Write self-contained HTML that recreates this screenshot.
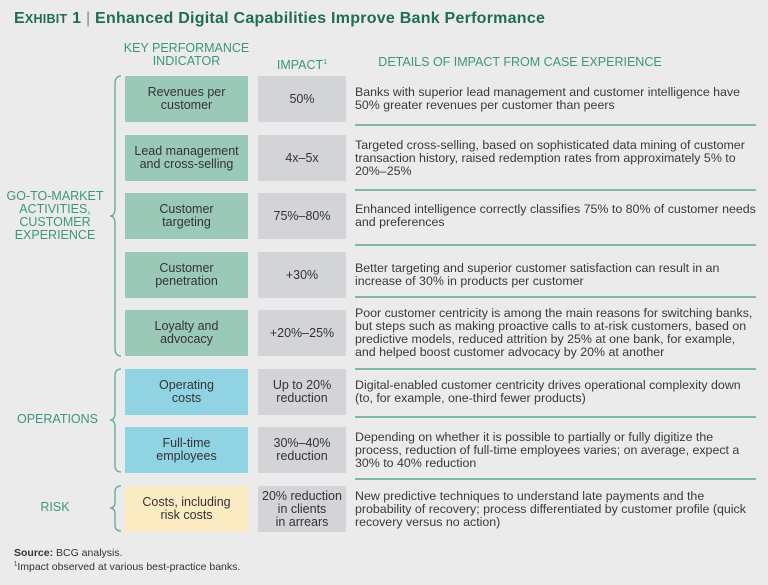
<!DOCTYPE html>
<html><head><meta charset="utf-8"><style>
body{margin:0;background:#ebebeb;}
#c{position:relative;width:768px;height:585px;background:#ebebeb;font-family:"Liberation Sans",sans-serif;overflow:hidden;color:#3a3a3a}
.t{position:absolute;white-space:nowrap}
.box{position:absolute;height:46px;display:flex;align-items:center;justify-content:center;text-align:center;font-size:12.5px;line-height:13px;color:#333}
.k{left:125px;width:123px;background:#9bc9b8}
.k.b{background:#90d4e4}
.k.y{background:#fbebc3}
.i{left:258px;width:88px;background:#d2d4d7}
.d{position:absolute;left:355px;width:410px;height:46px;display:flex;align-items:center;font-size:12.4px;line-height:13px;color:#3a3a3a}
.ln{position:absolute;left:355px;width:401px;height:2px;background:#7fb9a6}
.h{color:#3c977a;font-size:12.5px;line-height:13px;text-align:center}
.g{color:#3c977a;font-size:12.5px;line-height:13px;text-align:center}
</style></head><body>
<div id="c">
<div class="t" style="left:14px;top:10px;font-size:16px;font-weight:bold;color:#1e6e4f;letter-spacing:0.25px">E<span style="font-size:12.5px">XHIBIT</span> 1 <span style="font-weight:normal;color:#888">|</span> Enhanced Digital Capabilities Improve Bank Performance</div>

<div class="t h" style="left:120px;top:42px;width:133px">KEY PERFORMANCE<br>INDICATOR</div>
<div class="t h" style="left:258px;top:56px;width:88px">IMPACT<sup style="font-size:7px">1</sup></div>
<div class="t h" style="left:355px;top:56px;width:330px">DETAILS OF IMPACT FROM CASE EXPERIENCE</div>

<div class="t g" style="left:5px;top:190px;width:100px">GO-TO-MARKET<br>ACTIVITIES,<br>CUSTOMER<br>EXPERIENCE</div>
<div class="t g" style="left:5px;top:413px;width:105px">OPERATIONS</div>
<div class="t g" style="left:5px;top:501px;width:100px">RISK</div>

<svg width="768" height="585" style="position:absolute;left:0;top:0" fill="none" stroke="#5fa892" stroke-width="1.3">
<path d="M121 76 Q115 76 115 84 L115 208 Q115 216 110 216 Q115 216 115 224 L115 348 Q115 356 121 356"/>
<path d="M121 369 Q115 369 115 376 L115 413 Q115 420 110 420 Q115 420 115 427 L115 465 Q115 472 121 472"/>
<path d="M121 486 Q115 486 115 492 L115 502 Q115 508 110 508 Q115 508 115 514 L115 525 Q115 531 121 531"/>
</svg>

<div class="box k" style="top:76px">Revenues per<br>customer</div>
<div class="box i" style="top:76px">50%</div>
<div class="d" style="top:76px"><div>Banks with superior lead management and customer intelligence have<br>50% greater revenues per customer than peers</div></div>
<div class="ln" style="top:124px"></div>

<div class="box k" style="top:135px">Lead management<br>and cross-selling</div>
<div class="box i" style="top:135px">4x–5x</div>
<div class="d" style="top:135px"><div>Targeted cross-selling, based on sophisticated data mining of customer<br>transaction history, raised redemption rates from approximately 5% to<br>20%–25%</div></div>
<div class="ln" style="top:189px"></div>

<div class="box k" style="top:193px">Customer<br>targeting</div>
<div class="box i" style="top:193px">75%–80%</div>
<div class="d" style="top:193px"><div>Enhanced intelligence correctly classifies 75% to 80% of customer needs<br>and preferences</div></div>
<div class="ln" style="top:244px"></div>

<div class="box k" style="top:252px">Customer<br>penetration</div>
<div class="box i" style="top:252px">+30%</div>
<div class="d" style="top:252px"><div>Better targeting and superior customer satisfaction can result in an<br>increase of 30% in products per customer</div></div>
<div class="ln" style="top:296px"></div>

<div class="box k" style="top:310px">Loyalty and<br>advocacy</div>
<div class="box i" style="top:310px">+20%–25%</div>
<div class="d" style="top:310px"><div>Poor customer centricity is among the main reasons for switching banks,<br>but steps such as making proactive calls to at-risk customers, based on<br>predictive models, reduced attrition by 25% at one bank, for example,<br>and helped boost customer advocacy by 20% at another</div></div>
<div class="ln" style="top:368px"></div>

<div class="box k b" style="top:369px">Operating<br>costs</div>
<div class="box i" style="top:369px">Up to 20%<br>reduction</div>
<div class="d" style="top:369px"><div>Digital-enabled customer centricity drives operational complexity down<br>(to, for example, one-third fewer products)</div></div>
<div class="ln" style="top:416px"></div>

<div class="box k b" style="top:427px">Full-time<br>employees</div>
<div class="box i" style="top:427px">30%–40%<br>reduction</div>
<div class="d" style="top:427px"><div>Depending on whether it is possible to partially or fully digitize the<br>process, reduction of full-time employees varies; on average, expect a<br>30% to 40% reduction</div></div>
<div class="ln" style="top:478px"></div>

<div class="box k y" style="top:486px">Costs, including<br>risk costs</div>
<div class="box i" style="top:486px">20% reduction<br>in clients<br>in arrears</div>
<div class="d" style="top:486px"><div>New predictive techniques to understand late payments and the<br>probability of recovery; process differentiated by customer profile (quick<br>recovery versus no action)</div></div>

<div class="t" style="left:14px;top:547px;font-size:10.5px;color:#333"><b>Source:</b> BCG analysis.</div>
<div class="t" style="left:14px;top:561px;font-size:10.5px;color:#333"><sup style="font-size:6px">1</sup>Impact observed at various best-practice banks.</div>
</div>
</body></html>
